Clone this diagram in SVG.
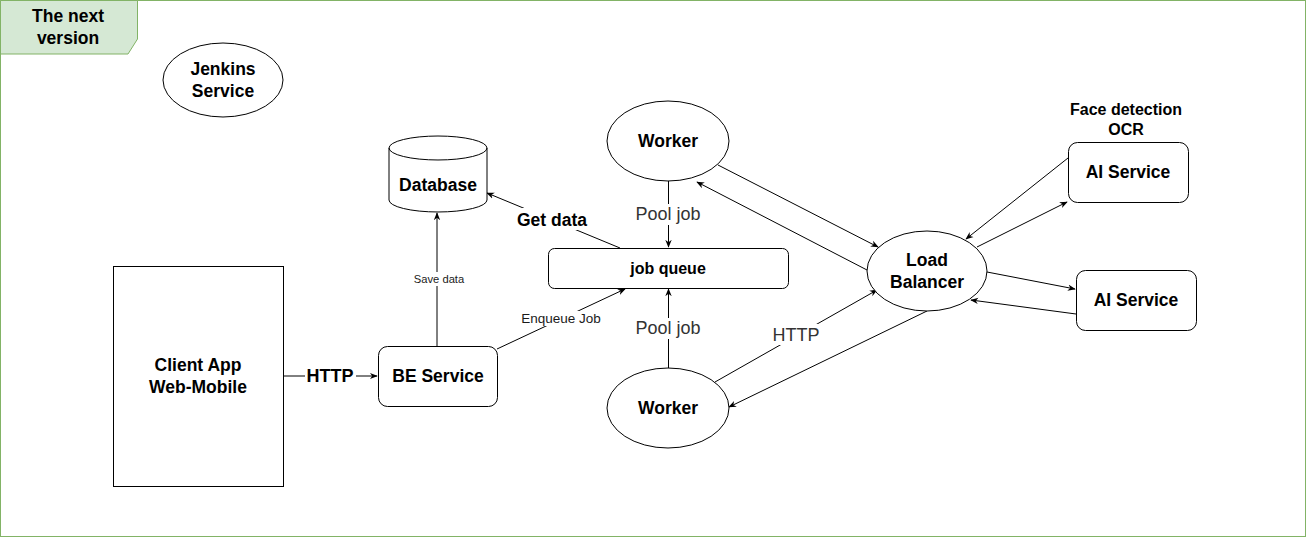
<svg xmlns="http://www.w3.org/2000/svg" width="1306" height="537" viewBox="0 0 1306 537">
  <style>
    .shape { fill: #ffffff; stroke: #000000; stroke-width: 1; }
    .edge { fill: none; stroke: #000000; stroke-width: 1; }
    .bg { fill: #ffffff; stroke: none; }
    .lbl { font-family: "Liberation Sans", Arial, sans-serif; font-weight: bold; fill: #000000; text-anchor: middle; font-size: 17.5px; }
    .plain { font-family: "Liberation Sans", Arial, sans-serif; fill: #333333; text-anchor: middle; font-size: 18px; }
    .small { font-family: "Liberation Sans", Arial, sans-serif; fill: #1a1a1a; text-anchor: middle; font-size: 13.5px; }
  </style>
  <defs>
    <marker id="arrow" viewBox="0 0 10 10" refX="9" refY="5" markerWidth="8" markerHeight="8" markerUnits="userSpaceOnUse" orient="auto">
      <path d="M0,1 L10,5 L0,9 L3,5 Z" fill="#000000"/>
    </marker>
  </defs>

  <!-- outer frame with title tab -->
  <g id="frame">
    <rect x="0.5" y="0.5" width="1305" height="536" fill="#ffffff" stroke="#82b366" stroke-width="1"/>
    <path d="M0.5,0.5 H137.5 V39 L128,54 H0.5 Z" fill="#d5e8d4" stroke="#82b366" stroke-width="1"/>
    <text class="lbl" x="68" y="22">The next</text>
    <text class="lbl" x="68" y="44">version</text>
  </g>

  <!-- connectors -->
  <g id="connectors">
    <line class="edge" x1="283" y1="376" x2="377" y2="376" marker-end="url(#arrow)"/>
    <line class="edge" x1="437" y1="346" x2="437" y2="213" marker-end="url(#arrow)"/>
    <line class="edge" x1="497" y1="349" x2="625" y2="289" marker-end="url(#arrow)"/>
    <line class="edge" x1="620" y1="248" x2="487" y2="193" marker-end="url(#arrow)"/>
    <line class="edge" x1="668.5" y1="181" x2="668.5" y2="247" marker-end="url(#arrow)"/>
    <line class="edge" x1="668.5" y1="368" x2="668.5" y2="289" marker-end="url(#arrow)"/>
    <line class="edge" x1="718" y1="165" x2="878" y2="247" marker-end="url(#arrow)"/>
    <line class="edge" x1="867" y1="270" x2="697" y2="182" marker-end="url(#arrow)"/>
    <line class="edge" x1="715" y1="382" x2="877" y2="290" marker-end="url(#arrow)"/>
    <line class="edge" x1="927" y1="311" x2="729" y2="407" marker-end="url(#arrow)"/>
    <line class="edge" x1="1068" y1="158" x2="966" y2="239" marker-end="url(#arrow)"/>
    <line class="edge" x1="977" y1="247" x2="1067" y2="202" marker-end="url(#arrow)"/>
    <line class="edge" x1="987" y1="272" x2="1075" y2="289" marker-end="url(#arrow)"/>
    <line class="edge" x1="1076" y1="314" x2="971" y2="300" marker-end="url(#arrow)"/>

    <!-- edge labels on white backgrounds -->
    <rect class="bg" x="305" y="366" width="51" height="20"/>
    <text class="lbl" style="font-size:18px" x="330" y="382">HTTP</text>
    <rect class="bg" x="412" y="272" width="53" height="14"/>
    <text class="small" style="font-size:11.2px" x="439" y="283">Save data</text>
    <rect class="bg" x="519" y="311" width="85" height="15"/>
    <text class="small" x="561" y="323">Enqueue Job</text>
    <rect class="bg" x="514" y="208" width="76" height="22"/>
    <text class="lbl" x="552" y="226">Get data</text>
    <rect class="bg" x="634" y="204" width="68" height="21"/>
    <text class="plain" x="668" y="220">Pool job</text>
    <rect class="bg" x="634" y="318" width="68" height="21"/>
    <text class="plain" x="668" y="334">Pool job</text>
    <rect class="bg" x="771" y="324" width="51" height="21"/>
    <text class="plain" x="796" y="341">HTTP</text>
  </g>

  <g id="jenkins">
    <ellipse class="shape" cx="223" cy="80" rx="60" ry="37"/>
    <text class="lbl" x="223" y="75">Jenkins</text>
    <text class="lbl" x="223" y="97">Service</text>
  </g>

  <g id="database">
    <path class="shape" d="M389,148 A49,12 0 0 1 487,148 V200 A49,12 0 0 1 389,200 Z"/>
    <path class="edge" d="M389,148 A49,12 0 0 0 487,148"/>
    <text class="lbl" x="438" y="191">Database</text>
  </g>

  <g id="client-app">
    <rect class="shape" x="113.5" y="266.5" width="170" height="220"/>
    <text class="lbl" x="198" y="371">Client App</text>
    <text class="lbl" x="198" y="393">Web-Mobile</text>
  </g>

  <g id="be-service">
    <rect class="shape" x="378.5" y="346.5" width="119" height="60" rx="9"/>
    <text class="lbl" x="438" y="382">BE Service</text>
  </g>

  <g id="job-queue">
    <rect class="shape" x="548.5" y="248.5" width="240" height="40" rx="6"/>
    <text class="lbl" style="font-size:16px" x="668" y="274">job queue</text>
  </g>

  <g id="worker-top">
    <ellipse class="shape" cx="668" cy="141" rx="61" ry="40"/>
    <text class="lbl" x="668" y="147">Worker</text>
  </g>

  <g id="worker-bottom">
    <ellipse class="shape" cx="668" cy="408" rx="61" ry="40"/>
    <text class="lbl" x="668" y="414">Worker</text>
  </g>

  <g id="load-balancer">
    <ellipse class="shape" cx="927" cy="271" rx="60" ry="40"/>
    <text class="lbl" x="927" y="266">Load</text>
    <text class="lbl" x="927" y="288">Balancer</text>
  </g>

  <g id="ai-service-1">
    <text class="lbl" style="font-size:16px" x="1126" y="115">Face detection</text>
    <text class="lbl" style="font-size:16px" x="1126" y="135">OCR</text>
    <rect class="shape" x="1068.5" y="142.5" width="120" height="60" rx="9"/>
    <text class="lbl" x="1128" y="178">AI Service</text>
  </g>

  <g id="ai-service-2">
    <rect class="shape" x="1076.5" y="270.5" width="120" height="60" rx="9"/>
    <text class="lbl" x="1136" y="306">AI Service</text>
  </g>
</svg>
